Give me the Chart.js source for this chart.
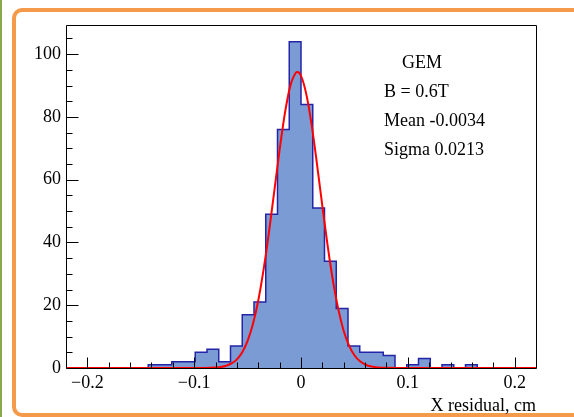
<!DOCTYPE html>
<html>
<head>
<meta charset="utf-8">
<script src="https://cdn.jsdelivr.net/npm/chart.js@4/dist/chart.umd.min.js"></script>
<style>
html,body{margin:0;padding:0;background:#fff;overflow:hidden;}
canvas{display:block;}
</style>
</head>
<body>
<canvas id="c" width="574" height="417"></canvas>
<script>
// Histogram: 40 bins from -0.22 to 0.22
const binLow = -0.22;
const binWidth = 0.011;
const counts = [0,0,0,0,0,0,0,1,1,2,2,5,6,2,7,17,21,49,76,104,84,51,34,19,7,5,5,4,0,1,3,0,1,0,1,0,0,0,0,0];
// Gaussian fit curve
const fitX = [-0.22,-0.1,-0.09,-0.08,-0.075,-0.07,-0.065,-0.06,-0.055,-0.05,-0.045,-0.04,-0.035,-0.03,-0.025,-0.02,-0.015,-0.01,-0.005,-0.0034,0,0.005,0.01,0.015,0.02,0.025,0.03,0.035,0.04,0.045,0.05,0.055,0.06,0.065,0.07,0.075,0.08,0.09,0.22];
const fitY = [0,0.003,0.02,0.15,0.33,0.71,1.44,2.76,5.02,8.62,14.0,21.5,31.4,43.2,56.4,69.6,81.3,89.9,94.0,94.3,93.1,87.2,77.4,64.9,51.6,38.8,27.6,18.6,11.8,7.13,4.07,2.20,1.12,0.54,0.25,0.11,0.04,0.005,0];
// Axis ticks
const xMajor = [-0.2,-0.1,0,0.1,0.2];
const xMinor = [-0.18,-0.16,-0.14,-0.12,-0.08,-0.06,-0.04,-0.02,0.02,0.04,0.06,0.08,0.12,0.14,0.16,0.18];
const yMajor = [0,20,40,60,80,100];
const yMinor = [5,10,15,25,30,35,45,50,55,65,70,75,85,90,95,105];
const statLines = ["GEM","B = 0.6T","Mean -0.0034","Sigma 0.0213"];
const xTitle = "X residual, cm";

const histPts = counts.map((v,i)=>({x: binLow + i*binWidth, y: v}));
histPts.push({x: binLow + counts.length*binWidth, y: counts[counts.length-1]});
const fitPts = fitX.map((x,i)=>({x:x, y:fitY[i]}));

const FONT = "'Liberation Serif','Times New Roman',serif";

const page = {
  id:'page',
  beforeDraw(chart){
    const ctx = chart.ctx;
    ctx.save();
    ctx.fillStyle = '#fff';
    ctx.fillRect(0,0,chart.width,chart.height);
    // green strip at left
    ctx.fillStyle = '#86a84e';
    ctx.fillRect(0,0,2,chart.height);
    // orange slide frame (open on the right)
    const r = 8;
    ctx.strokeStyle = '#f5994a';
    ctx.lineWidth = 4;
    ctx.beginPath();
    ctx.moveTo(chart.width+10, 10);
    ctx.lineTo(14+r, 10);
    ctx.arcTo(14,10,14,10+r,r);
    ctx.lineTo(14, 415-r);
    ctx.arcTo(14,415,14+r,415,r);
    ctx.lineTo(chart.width+10, 415);
    ctx.stroke();
    ctx.restore();
  }
};

const deco = {
  id:'deco',
  afterDatasetsDraw(chart){
    const ctx = chart.ctx, a = chart.chartArea;
    const xs = chart.scales.x, ys = chart.scales.y;
    ctx.save();
    ctx.strokeStyle = '#000';
    ctx.lineWidth = 1;
    ctx.beginPath();
    ctx.rect(Math.round(a.left)+0.5, Math.round(a.top)+0.5, Math.round(a.right-a.left), Math.round(a.bottom-a.top));
    ctx.stroke();
    ctx.beginPath();
    const yb = Math.round(a.bottom)+0.5, xl = Math.round(a.left)+0.5;
    xMajor.forEach(v=>{const p=Math.round(xs.getPixelForValue(v))+0.5; ctx.moveTo(p,yb); ctx.lineTo(p,yb-11);});
    xMinor.forEach(v=>{const p=Math.round(xs.getPixelForValue(v))+0.5; ctx.moveTo(p,yb); ctx.lineTo(p,yb-6);});
    yMajor.forEach(v=>{const p=Math.round(ys.getPixelForValue(v))+0.5; ctx.moveTo(xl,p); ctx.lineTo(xl+12,p);});
    yMinor.forEach(v=>{const p=Math.round(ys.getPixelForValue(v))+0.5; ctx.moveTo(xl,p); ctx.lineTo(xl+6,p);});
    ctx.stroke();
    // stats text
    ctx.fillStyle = '#000';
    ctx.font = '18px ' + FONT;
    ctx.textBaseline = 'alphabetic';
    ctx.textAlign = 'center';
    ctx.fillText(statLines[0], 422, 68);
    ctx.textAlign = 'left';
    ctx.fillText(statLines[1], 384, 97);
    ctx.fillText(statLines[2], 384, 126);
    ctx.fillText(statLines[3], 384, 155);
    ctx.restore();
  }
};

new Chart(document.getElementById('c'), {
  type:'line',
  data:{
    datasets:[
      {data: fitPts, borderColor:'#ff0000', borderWidth:2, pointRadius:0, fill:false, cubicInterpolationMode:'monotone', order:0},
      {data: histPts, stepped:'before', borderColor:'#2424a8', borderWidth:1.5, backgroundColor:'#7b9bd4', fill:'origin', pointRadius:0, order:1}
    ]
  },
  options:{
    responsive:false,
    animation:false,
    devicePixelRatio:1,
    layout:{padding:{left:0,top:25,right:38,bottom:0}},
    plugins:{legend:{display:false},tooltip:{enabled:false}},
    scales:{
      x:{type:'linear', min:-0.22, max:0.22,
        grid:{display:false, drawTicks:false},
        border:{display:false},
        afterBuildTicks(s){ s.ticks = xMajor.map(v=>({value:v})); },
        afterFit(s){ s.height = 49; },
        ticks:{padding:4, color:'#000', font:{family:FONT,size:18}, maxRotation:0, autoSkip:false,
          callback:(v)=> v===0 ? '0' : (v<0 ? '\u2212'+Math.abs(v).toFixed(1) : v.toFixed(1))},
        title:{display:true, text:xTitle, align:'end', color:'#000', font:{family:FONT,size:18}, padding:{top:0,bottom:0}}
      },
      y:{type:'linear', min:0, max:109.3,
        grid:{display:false, drawTicks:false},
        border:{display:false},
        afterBuildTicks(s){ s.ticks = yMajor.map(v=>({value:v})); },
        afterFit(s){ s.width = 66; },
        ticks:{padding:5, color:'#000', font:{family:FONT,size:18}, autoSkip:false}
      }
    }
  },
  plugins:[page, deco]
});
</script>
</body>
</html>
